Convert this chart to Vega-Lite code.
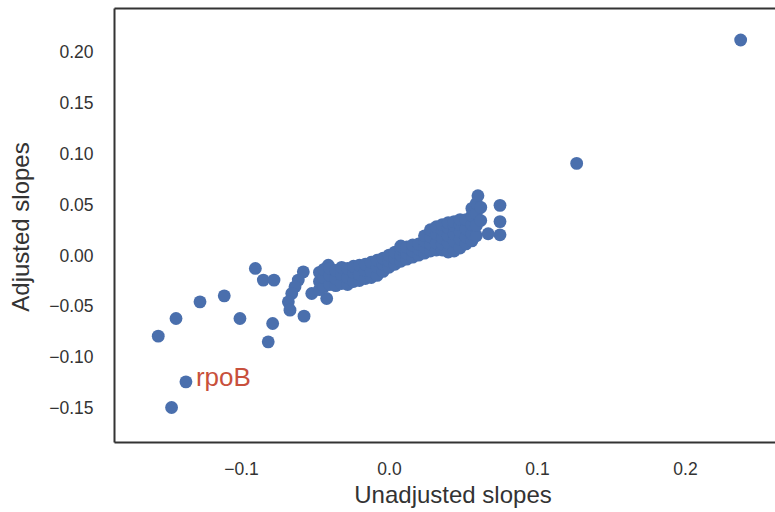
{
  "$schema": "https://vega.github.io/schema/vega-lite/v6.json",
  "width": 661,
  "height": 434,
  "autosize": {"type": "none"},
  "padding": {"left": 114, "top": 8, "right": 0, "bottom": 70},
  "background": "white",
  "config": {"view": {"stroke": null}, "font": "Liberation Sans"},
  "data": {
    "values": [
      {"unadjusted": 0.2376, "adjusted": 0.2128},
      {"unadjusted": 0.1268, "adjusted": 0.0913},
      {"unadjusted": -0.1559, "adjusted": -0.0788},
      {"unadjusted": -0.1439, "adjusted": -0.0614},
      {"unadjusted": -0.1277, "adjusted": -0.045},
      {"unadjusted": -0.1113, "adjusted": -0.0391},
      {"unadjusted": -0.1007, "adjusted": -0.0614},
      {"unadjusted": -0.0903, "adjusted": -0.0121},
      {"unadjusted": -0.0849, "adjusted": -0.0236},
      {"unadjusted": -0.0777, "adjusted": -0.0236},
      {"unadjusted": -0.0786, "adjusted": -0.0663},
      {"unadjusted": -0.0816, "adjusted": -0.0844},
      {"unadjusted": -0.1372, "adjusted": -0.1238, "gene": "rpoB"},
      {"unadjusted": -0.1469, "adjusted": -0.149},
      {"unadjusted": -0.0579, "adjusted": -0.0155},
      {"unadjusted": -0.0613, "adjusted": -0.0236},
      {"unadjusted": -0.0635, "adjusted": -0.0302},
      {"unadjusted": -0.0657, "adjusted": -0.0368},
      {"unadjusted": -0.068, "adjusted": -0.045},
      {"unadjusted": -0.0669, "adjusted": -0.0532},
      {"unadjusted": -0.0574, "adjusted": -0.0591},
      {"unadjusted": -0.0522, "adjusted": -0.0368},
      {"unadjusted": -0.0421, "adjusted": -0.0417},
      {"unadjusted": -0.041, "adjusted": -0.0089},
      {"unadjusted": -0.047, "adjusted": -0.033},
      {"unadjusted": -0.047, "adjusted": -0.025},
      {"unadjusted": -0.047, "adjusted": -0.016},
      {"unadjusted": -0.044, "adjusted": -0.03},
      {"unadjusted": -0.044, "adjusted": -0.021},
      {"unadjusted": -0.044, "adjusted": -0.013},
      {"unadjusted": -0.04, "adjusted": -0.028},
      {"unadjusted": -0.04, "adjusted": -0.019},
      {"unadjusted": -0.04, "adjusted": -0.012},
      {"unadjusted": -0.036, "adjusted": -0.029},
      {"unadjusted": -0.036, "adjusted": -0.022},
      {"unadjusted": -0.036, "adjusted": -0.014},
      {"unadjusted": -0.032, "adjusted": -0.027},
      {"unadjusted": -0.032, "adjusted": -0.018},
      {"unadjusted": -0.032, "adjusted": -0.011},
      {"unadjusted": -0.028, "adjusted": -0.028},
      {"unadjusted": -0.028, "adjusted": -0.021},
      {"unadjusted": -0.028, "adjusted": -0.012},
      {"unadjusted": -0.024, "adjusted": -0.025},
      {"unadjusted": -0.024, "adjusted": -0.016},
      {"unadjusted": -0.024, "adjusted": -0.01},
      {"unadjusted": -0.02, "adjusted": -0.024},
      {"unadjusted": -0.02, "adjusted": -0.018},
      {"unadjusted": -0.02, "adjusted": -0.009},
      {"unadjusted": -0.016, "adjusted": -0.022},
      {"unadjusted": -0.016, "adjusted": -0.014},
      {"unadjusted": -0.016, "adjusted": -0.008},
      {"unadjusted": -0.012, "adjusted": -0.021},
      {"unadjusted": -0.012, "adjusted": -0.015},
      {"unadjusted": -0.012, "adjusted": -0.006},
      {"unadjusted": -0.008, "adjusted": -0.019},
      {"unadjusted": -0.008, "adjusted": -0.011},
      {"unadjusted": -0.008, "adjusted": -0.004},
      {"unadjusted": -0.004, "adjusted": -0.015},
      {"unadjusted": -0.004, "adjusted": -0.008},
      {"unadjusted": -0.004, "adjusted": -0.002},
      {"unadjusted": 0.0, "adjusted": -0.011},
      {"unadjusted": 0.0, "adjusted": -0.005},
      {"unadjusted": 0.0, "adjusted": 0.001},
      {"unadjusted": 0.004, "adjusted": -0.008},
      {"unadjusted": 0.004, "adjusted": -0.002},
      {"unadjusted": 0.004, "adjusted": 0.004},
      {"unadjusted": 0.008, "adjusted": -0.005},
      {"unadjusted": 0.008, "adjusted": 0.001},
      {"unadjusted": 0.008, "adjusted": 0.007},
      {"unadjusted": 0.008, "adjusted": 0.01},
      {"unadjusted": 0.012, "adjusted": -0.003},
      {"unadjusted": 0.012, "adjusted": 0.003},
      {"unadjusted": 0.012, "adjusted": 0.009},
      {"unadjusted": 0.016, "adjusted": -0.001},
      {"unadjusted": 0.016, "adjusted": 0.005},
      {"unadjusted": 0.016, "adjusted": 0.011},
      {"unadjusted": 0.02, "adjusted": 0.001},
      {"unadjusted": 0.02, "adjusted": 0.007},
      {"unadjusted": 0.02, "adjusted": 0.012},
      {"unadjusted": 0.024, "adjusted": 0.003},
      {"unadjusted": 0.024, "adjusted": 0.009},
      {"unadjusted": 0.024, "adjusted": 0.015},
      {"unadjusted": 0.024, "adjusted": 0.02},
      {"unadjusted": 0.028, "adjusted": 0.005},
      {"unadjusted": 0.028, "adjusted": 0.012},
      {"unadjusted": 0.028, "adjusted": 0.019},
      {"unadjusted": 0.028, "adjusted": 0.026},
      {"unadjusted": 0.032, "adjusted": 0.006},
      {"unadjusted": 0.032, "adjusted": 0.013},
      {"unadjusted": 0.032, "adjusted": 0.022},
      {"unadjusted": 0.032, "adjusted": 0.029},
      {"unadjusted": 0.036, "adjusted": 0.006},
      {"unadjusted": 0.036, "adjusted": 0.012},
      {"unadjusted": 0.036, "adjusted": 0.018},
      {"unadjusted": 0.036, "adjusted": 0.026},
      {"unadjusted": 0.036, "adjusted": 0.031},
      {"unadjusted": 0.04, "adjusted": 0.004},
      {"unadjusted": 0.04, "adjusted": 0.013},
      {"unadjusted": 0.04, "adjusted": 0.02},
      {"unadjusted": 0.04, "adjusted": 0.028},
      {"unadjusted": 0.04, "adjusted": 0.033},
      {"unadjusted": 0.044, "adjusted": 0.005},
      {"unadjusted": 0.044, "adjusted": 0.015},
      {"unadjusted": 0.044, "adjusted": 0.022},
      {"unadjusted": 0.044, "adjusted": 0.03},
      {"unadjusted": 0.044, "adjusted": 0.034},
      {"unadjusted": 0.048, "adjusted": 0.008},
      {"unadjusted": 0.048, "adjusted": 0.017},
      {"unadjusted": 0.048, "adjusted": 0.024},
      {"unadjusted": 0.048, "adjusted": 0.031},
      {"unadjusted": 0.048, "adjusted": 0.036},
      {"unadjusted": 0.052, "adjusted": 0.012},
      {"unadjusted": 0.052, "adjusted": 0.019},
      {"unadjusted": 0.052, "adjusted": 0.027},
      {"unadjusted": 0.052, "adjusted": 0.036},
      {"unadjusted": 0.056, "adjusted": 0.015},
      {"unadjusted": 0.056, "adjusted": 0.022},
      {"unadjusted": 0.056, "adjusted": 0.031},
      {"unadjusted": 0.056, "adjusted": 0.04},
      {"unadjusted": 0.056, "adjusted": 0.047},
      {"unadjusted": 0.059, "adjusted": 0.02},
      {"unadjusted": 0.059, "adjusted": 0.03},
      {"unadjusted": 0.059, "adjusted": 0.042},
      {"unadjusted": 0.059, "adjusted": 0.052},
      {"unadjusted": 0.0601, "adjusted": 0.0595},
      {"unadjusted": 0.062, "adjusted": 0.035},
      {"unadjusted": 0.062, "adjusted": 0.048},
      {"unadjusted": 0.075, "adjusted": 0.05},
      {"unadjusted": 0.075, "adjusted": 0.034},
      {"unadjusted": 0.067, "adjusted": 0.022},
      {"unadjusted": 0.075, "adjusted": 0.021}
    ]
  },
  "layer": [
    {
      "mark": {"type": "circle", "size": 165, "color": "#4A6FAD", "opacity": 1},
      "encoding": {
        "x": {
          "field": "unadjusted",
          "type": "quantitative",
          "scale": {"domain": [-0.1858, 0.2608], "nice": false, "zero": false},
          "axis": {
            "orient": "bottom",
            "values": [-0.1, 0, 0.1, 0.2],
            "format": ".1f",
            "ticks": false,
            "tickSize": 0,
            "grid": false,
            "labelFlush": false,
            "labelPadding": 18.5,
            "labelFontSize": 17.5,
            "labelColor": "#333",
            "domainColor": "#333",
            "domainWidth": 2,
            "title": "Unadjusted slopes",
            "titleFontSize": 24,
            "titleFontWeight": "normal",
            "titleColor": "#333",
            "titleBaseline": "alphabetic",
            "titleAlign": "center",
            "titleX": 338.5,
            "titleY": 60
          }
        },
        "y": {
          "field": "adjusted",
          "type": "quantitative",
          "scale": {"domain": [-0.183, 0.2443], "nice": false, "zero": false},
          "axis": {
            "orient": "left",
            "values": [-0.15, -0.1, -0.05, 0, 0.05, 0.1, 0.15, 0.2],
            "format": ".2f",
            "ticks": false,
            "tickSize": 0,
            "grid": false,
            "labelFlush": false,
            "labelPadding": 21,
            "labelFontSize": 17.5,
            "labelColor": "#333",
            "domainColor": "#333",
            "domainWidth": 2,
            "title": "Adjusted slopes",
            "titleFontSize": 24,
            "titleFontWeight": "normal",
            "titleColor": "#333",
            "titleAngle": -90,
            "titleBaseline": "alphabetic",
            "titleAlign": "center",
            "titleX": -85.5,
            "titleY": 218.5
          }
        }
      }
    },
    {
      "transform": [{"filter": "datum.gene === 'rpoB'"}],
      "mark": {"type": "text", "align": "left", "baseline": "alphabetic", "dx": 10, "dy": 4.3, "fontSize": 26, "color": "#C8503C"},
      "encoding": {
        "x": {
          "field": "unadjusted",
          "type": "quantitative",
          "scale": {"domain": [-0.1858, 0.2608], "nice": false, "zero": false},
          "axis": {"orient": "top", "labels": false, "ticks": false, "tickSize": 0, "grid": false, "title": null, "domainColor": "#333", "domainWidth": 2}
        },
        "y": {
          "field": "adjusted",
          "type": "quantitative",
          "scale": {"domain": [-0.183, 0.2443], "nice": false, "zero": false},
          "axis": null
        },
        "text": {"field": "gene"}
      }
    }
  ],
  "resolve": {"axis": {"x": "independent", "y": "independent"}}
}
